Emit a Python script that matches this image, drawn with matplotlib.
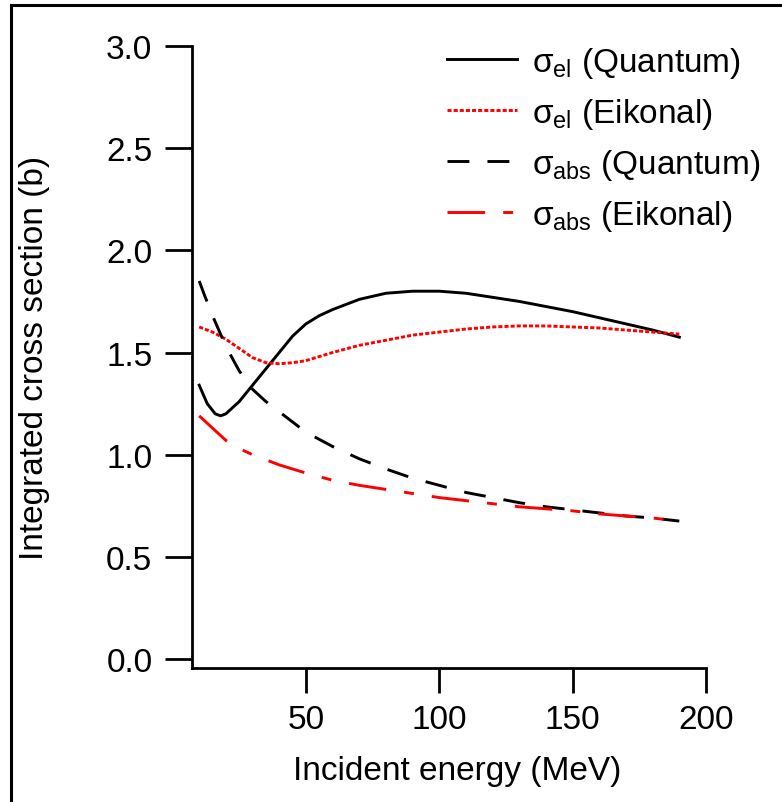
import matplotlib
matplotlib.use("Agg")
import matplotlib.pyplot as plt
from matplotlib.patches import Rectangle

plt.rcParams['font.family'] = ['Liberation Sans', 'DejaVu Sans']
plt.rcParams['mathtext.fontset'] = 'custom'
plt.rcParams['mathtext.rm'] = 'Liberation Sans'
plt.rcParams['mathtext.it'] = 'Liberation Sans:italic'
plt.rcParams['mathtext.bf'] = 'Liberation Sans:bold'

# Elastic cross section, quantum calculation
el_q_E = [10, 13, 16, 18, 20, 25, 30, 35, 40, 45, 50, 55, 60, 70, 80, 90,
          100, 110, 120, 130, 140, 150, 160, 170, 180, 190]
el_q = [1.34, 1.25, 1.20, 1.19, 1.20, 1.26, 1.34, 1.42, 1.50, 1.58, 1.64,
        1.68, 1.71, 1.76, 1.79, 1.80, 1.80, 1.79, 1.77, 1.75, 1.725, 1.70,
        1.67, 1.64, 1.61, 1.575]

# Elastic cross section, eikonal approximation
el_e_E = [10, 15, 20, 25, 30, 35, 40, 45, 50, 55, 60, 70, 80, 90, 100, 110,
          120, 130, 140, 150, 160, 170, 180, 190]
el_e = [1.625, 1.60, 1.565, 1.52, 1.475, 1.45, 1.445, 1.45, 1.46, 1.48,
        1.50, 1.535, 1.56, 1.585, 1.60, 1.615, 1.625, 1.63, 1.63, 1.625,
        1.62, 1.61, 1.60, 1.59]

# Absorption cross section, quantum calculation
abs_q_E = [10, 12, 15, 20, 25, 30, 35, 40, 50, 60, 70, 80, 90, 100, 110,
           120, 130, 140, 150, 160, 170, 180, 190]
abs_q = [1.85, 1.78, 1.68, 1.53, 1.41, 1.32, 1.26, 1.21, 1.11, 1.04, 0.98,
         0.93, 0.885, 0.85, 0.815, 0.79, 0.765, 0.745, 0.73, 0.715, 0.70,
         0.69, 0.675]

# Absorption cross section, eikonal approximation
abs_e_E = [10, 15, 20, 25, 30, 35, 40, 50, 60, 70, 80, 90, 100, 110, 120,
           130, 140, 150, 160, 170, 180, 190]
abs_e = [1.19, 1.13, 1.07, 1.03, 1.00, 0.975, 0.95, 0.91, 0.875, 0.85, 0.83,
         0.81, 0.79, 0.775, 0.76, 0.745, 0.735, 0.725, 0.71, 0.70, 0.69,
         0.675]

labels = [r'$\mathrm{\sigma_{el}}$ (Quantum)',
          r'$\mathrm{\sigma_{el}}$ (Eikonal)',
          r'$\mathrm{\sigma_{abs}}$ (Quantum)',
          r'$\mathrm{\sigma_{abs}}$ (Eikonal)']

x_ticks = [50, 100, 150, 200]
y_ticks = [0.0, 0.5, 1.0, 1.5, 2.0, 2.5, 3.0]

W, H = 782, 803
fig = plt.figure(figsize=(W / 100, H / 100), dpi=100)
ax = fig.add_axes([192 / W, 1 - 669 / H, (706 - 192) / W, (669 - 47) / H])

lw = 2.1
ax.plot(el_q_E, el_q, color='black', lw=lw, ls='-', label=labels[0])
ax.plot(el_e_E, el_e, color='red', lw=lw, ls=(0, (1.4, 0.7)), label=labels[1])
ax.plot(abs_q_E, abs_q, color='black', lw=lw, ls=(0, (7.5, 6.2)), label=labels[2])
ax.plot(abs_e_E, abs_e, color='red', lw=lw, ls=(0, (12.9, 6.2, 3.4, 6.2)),
        label=labels[3])

ax.set_xlim(7.3, 200)
ax.set_ylim(-0.044, 3.0)
ax.set_xticks(x_ticks)
ax.set_yticks(y_ticks)
ax.set_xticklabels([str(v) for v in x_ticks])
ax.set_yticklabels([f'{v:.1f}' for v in y_ticks])

for side in ('top', 'right'):
    ax.spines[side].set_visible(False)
for side in ('left', 'bottom'):
    ax.spines[side].set_linewidth(2.0)

ax.tick_params(axis='y', direction='out', length=19.5, width=2.0, pad=9,
               labelsize=24, colors='black')
ax.tick_params(axis='x', direction='out', length=18, width=2.0, pad=8,
               labelsize=24, colors='black')

fig.text(35 / W, 1 - 358 / H, 'Integrated cross section (b)', rotation=90,
         ha='center', va='center', fontsize=24)
fig.text(457 / W, 1 - 772 / H, 'Incident energy (MeV)',
         ha='center', va='center', fontsize=24)

ax.legend(loc='upper left', bbox_to_anchor=(447 / W, 1 - 46 / H),
          bbox_transform=fig.transFigure, frameon=False, fontsize=24,
          borderpad=0, borderaxespad=0, handlelength=2.1,
          handletextpad=0.45, labelspacing=0.48)

# Outer frame around the whole figure
fig.patches.append(Rectangle((10.7 / W, -0.1), 1.2, 1 - 6 / H + 0.1,
                             transform=fig.transFigure, fill=False,
                             edgecolor='black', lw=2.2, clip_on=False))

fig.savefig('out.png', dpi=100)
